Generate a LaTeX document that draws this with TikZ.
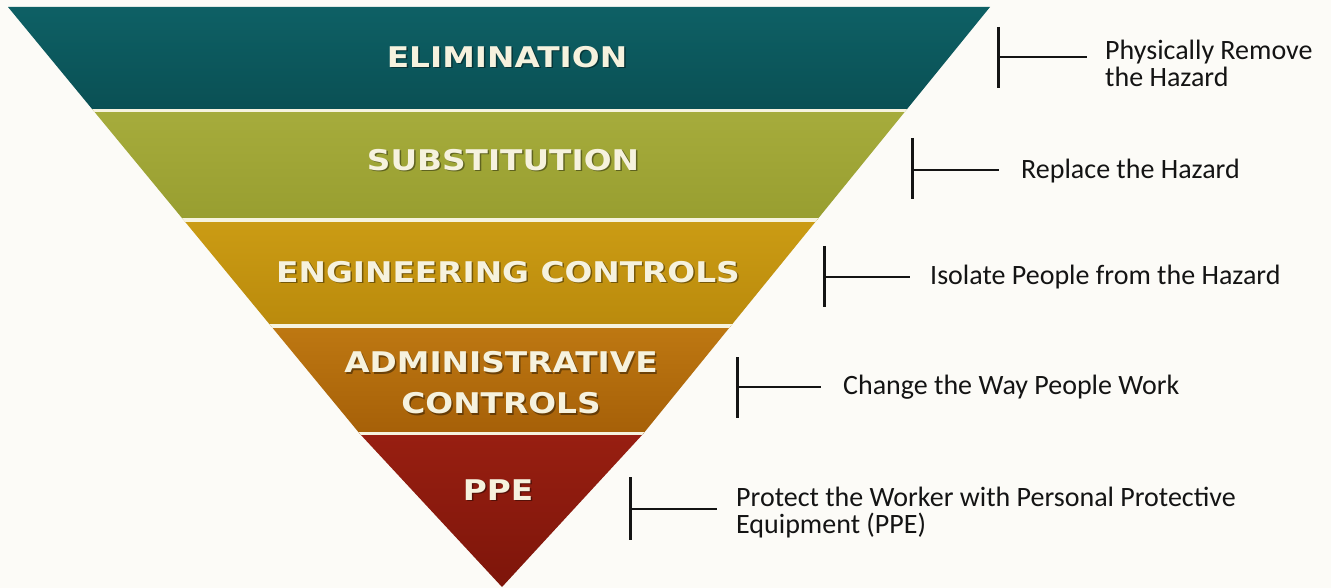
\documentclass[tikz,border=0pt]{standalone}
\usepackage{fontspec}
\setmainfont{Carlito}
\newfontfamily\bandfont[FakeStretch=1.15]{DejaVu Sans}
\definecolor{bgc}{RGB}{252,251,247}
\definecolor{gapc}{RGB}{246,243,222}
\definecolor{tealT}{RGB}{14,97,102}
\definecolor{tealB}{RGB}{10,80,84}
\definecolor{oliveT}{RGB}{166,172,60}
\definecolor{oliveB}{RGB}{152,158,48}
\definecolor{goldT}{RGB}{203,156,20}
\definecolor{goldB}{RGB}{186,138,12}
\definecolor{brownT}{RGB}{190,120,18}
\definecolor{brownB}{RGB}{166,96,8}
\definecolor{redT}{RGB}{152,31,17}
\definecolor{redB}{RGB}{125,21,10}
\definecolor{bandtext}{RGB}{246,242,222}
\definecolor{ink}{RGB}{20,20,20}
\tikzset{
  bandlabel/.style={text=bandtext, inner sep=0pt, font=\bandfont\bfseries\fontsize{28.5}{41}\selectfont, align=center},
  bandshadow/.style={text=black, opacity=0.4, inner sep=0pt, font=\bandfont\bfseries\fontsize{28.5}{41}\selectfont, align=center},
  sidelabel/.style={text=ink, inner sep=0pt, anchor=west, align=left, font=\fontsize{28}{27}\selectfont},
  bracketbar/.style={draw=ink, line width=3pt},
  bracketarm/.style={draw=ink, line width=2.6pt},
  gapline/.style={draw=gapc, line width=3.5pt}
}
\begin{document}
\begin{tikzpicture}[x=1pt,y=-1pt]
\fill[bgc] (0,0) rectangle (1331,588);
\useasboundingbox (0,0) rectangle (1331,588);
% pyramid outline
\coordinate (TL) at (8,7);
\coordinate (TR) at (990,7);
\coordinate (ML) at (360,434);
\coordinate (MR) at (643,434);
\coordinate (AP) at (502,587);
\begin{scope}
\clip (TL) -- (TR) -- (MR) -- (AP) -- (ML) -- cycle;
\shade[top color=tealT, bottom color=tealB] (0,0) rectangle (1000,110);
\shade[top color=oliveT, bottom color=oliveB] (0,110) rectangle (1000,220);
\shade[top color=goldT, bottom color=goldB] (0,220) rectangle (1000,326);
\shade[top color=brownT, bottom color=brownB] (0,326) rectangle (1000,433);
\shade[top color=redT, bottom color=redB] (0,433) rectangle (1000,590);
\draw[gapline] (0,110.5) -- (1000,110.5);
\draw[gapline] (0,220) -- (1000,220);
\draw[gapline] (0,326) -- (1000,326);
\draw[gapline, line width=3pt] (0,433.5) -- (1000,433.5);
\end{scope}
% band labels
\node[bandshadow] at (508.5,58.5) {ELIMINATION};
\node[bandlabel] (elim) at (507,57) {ELIMINATION};
\node[bandshadow] at (504.5,161.5) {SUBSTITUTION};
\node[bandlabel] (subst) at (503,160) {SUBSTITUTION};
\node[bandshadow] at (509.5,273.5) {ENGINEERING CONTROLS};
\node[bandlabel] (eng) at (508,272) {ENGINEERING CONTROLS};
\node[bandshadow] at (502.5,384.5) {ADMINISTRATIVE\\CONTROLS};
\node[bandlabel] (admin) at (501,383) {ADMINISTRATIVE\\CONTROLS};
\node[bandshadow] at (499.5,491.5) {PPE};
\node[bandlabel] (ppe) at (498,490) {PPE};
% brackets
\draw[bracketbar] (998,27) -- (998,88);
\coordinate (b1) at (998,57); \coordinate (b1e) at (1087,57);
\draw[bracketarm] (b1) -- (b1e);
\node[sidelabel] (t1) at (1105,63) {Physically Remove\\the Hazard};

\draw[bracketbar] (912,138) -- (912,199);
\coordinate (b2) at (912,170); \coordinate (b2e) at (999,170);
\draw[bracketarm] (b2) -- (b2e);
\node[sidelabel] (t2) at (1021,171) {Replace the Hazard};

\draw[bracketbar] (824,246) -- (824,307);
\coordinate (b3) at (824,277); \coordinate (b3e) at (910,277);
\draw[bracketarm] (b3) -- (b3e);
\node[sidelabel] (t3) at (930,277) {Isolate People from the Hazard};

\draw[bracketbar] (737,357) -- (737,418);
\coordinate (b4) at (737,387); \coordinate (b4e) at (821,387);
\draw[bracketarm] (b4) -- (b4e);
\node[sidelabel] (t4) at (843,387) {Change the Way People Work};

\draw[bracketbar] (630,477) -- (630,540);
\coordinate (b5) at (630,509); \coordinate (b5e) at (717,509);
\draw[bracketarm] (b5) -- (b5e);
\node[sidelabel] (t5) at (736,513) {Protect the Worker with Personal Protective\\Equipment (PPE)};
\end{tikzpicture}
\end{document}
